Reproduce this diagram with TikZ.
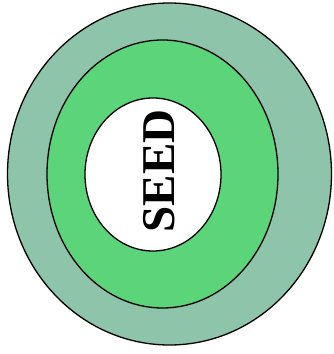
\documentclass[tikz,border=0pt]{standalone}
\usepackage{fontspec}
\setmainfont{Liberation Serif}
\usetikzlibrary{shapes.geometric}
\definecolor{outerc}{RGB}{142,196,170}
\definecolor{midc}{RGB}{92,212,122}
\begin{document}
\begin{tikzpicture}[x=1pt,y=1pt,
  ring/.style={draw=black,line width=1.3pt,ellipse,inner sep=0pt}]
\useasboundingbox (0,0) rectangle (333,354);
\fill[white] (0,0) rectangle (333,354);
\node[ring,fill=outerc,minimum width=324pt,minimum height=342pt] (outer) at (169.5,180) {};
\node[ring,fill=midc,minimum width=231pt,minimum height=268pt] (mid) at (162.5,180) {};
\node[ring,fill=white,minimum width=136pt,minimum height=153pt] (inner) at (153,179.5) {};
\node[rotate=90,font=\fontsize{47}{47}\selectfont\bfseries,inner sep=0pt] (seed) at (159,183) {SEED};
\end{tikzpicture}
\end{document}
